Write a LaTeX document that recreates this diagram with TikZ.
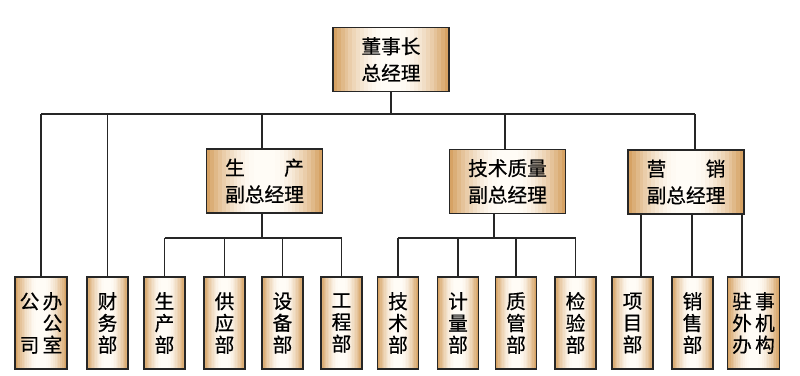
\documentclass[tikz,border=0pt]{standalone}
\usepackage{fontspec}
\setmainfont{Noto Sans CJK SC}[FakeBold=0.6]
\usetikzlibrary{calc}
\definecolor{boxtan}{RGB}{214,162,100}
\definecolor{boxlight}{RGB}{255,252,246}
\tikzset{
  orgbox/.style={draw=black!85, line width=1.1pt, align=center, inner sep=0pt,
    path picture={
      \fill[boxlight] (path picture bounding box.south west) rectangle
        (path picture bounding box.north east);
      \foreach \i [evaluate=\i as \a using \i/30, evaluate=\i as \b using (\i+1.3)/30,
                   evaluate=\i as \p using 100*(1-\i/12)^1.6] in {0,...,11} {
        \fill[boxtan!\p!boxlight]
          ($(path picture bounding box.south west)!\a!(path picture bounding box.south east)$) rectangle
          ($(path picture bounding box.north west)!\b!(path picture bounding box.north east)$);
        \fill[boxtan!\p!boxlight]
          ($(path picture bounding box.south east)!\a!(path picture bounding box.south west)$) rectangle
          ($(path picture bounding box.north east)!\b!(path picture bounding box.north west)$);
      }
    }},
  headbox/.style={orgbox, minimum width=2.9cm, minimum height=1.6cm,
    font=\fontsize{14}{19}\selectfont},
  deptbox/.style={orgbox, minimum width=1.025cm, minimum height=2.3cm,
    font=\fontsize{14}{15.5}\selectfont},
  widebox/.style={deptbox, minimum width=1.3cm},
  link/.style={line width=0.8pt, black!85}
}
\begin{document}
\begin{tikzpicture}[x=0.025cm, y=-0.025cm]
\useasboundingbox (0,0) rectangle (800,375);
% heads
\node[headbox] (ceo) at (391,59.5) {董事长\\总经理};
\node[headbox] (prodvp) at (264.5,181) {\makebox[4em]{生\hfill 产}\\副总经理};
\node[headbox] (techvp) at (507.5,181.5) {技术质量\\副总经理};
\node[headbox] (mktvp) at (686,182) {\makebox[4em]{营\hfill 销}\\副总经理};
% departments
\node[widebox] (office) at (41,323) {公\,办\\\phantom{公}\,公\\司\,室};
\node[deptbox] (finance) at (107.5,323) {财\\务\\部};
\node[deptbox] (prodsec) at (164.5,323) {生\\产\\部};
\node[deptbox] (supply) at (224.5,323) {供\\应\\部};
\node[deptbox] (equip) at (282.5,323) {设\\备\\部};
\node[deptbox] (eng) at (341.5,323) {工\\程\\部};
\node[deptbox] (techsec) at (398,323) {技\\术\\部};
\node[deptbox] (metro) at (458,323) {计\\量\\部};
\node[deptbox] (quality) at (516,323) {质\\管\\部};
\node[deptbox] (inspect) at (575.5,323) {检\\验\\部};
\node[deptbox] (project) at (632.5,323) {项\\目\\部};
\node[deptbox] (sales) at (692.5,323) {销\\售\\部};
\node[widebox] (branch) at (753.5,323) {驻\,事\\外\,机\\办\,构};
% top level bus
\coordinate (busL) at (41,114);
\coordinate (busR) at (695,114);
\draw[link] (ceo.south) -- (ceo.south |- busL);
\draw[link] (busL) -- (busR);
\draw[link] (busL) -- (office.north);
\draw[link] (finance.north |- busL) -- (finance.north);
\draw[link] (prodvp.north -| 262,0) -- (262,114);
\draw[link] (techvp.north -| 505,0) -- (505,114);
\draw[link] (busR) -- (busR |- mktvp.north);
% production
\coordinate (prodbus) at (262,238);
\draw[link] (prodvp.south -| prodbus) -- (prodbus);
\draw[link] (prodsec.north |- prodbus) -- (eng.north |- prodbus);
\foreach \n in {prodsec,supply,equip,eng}
  \draw[link] (\n.north |- prodbus) -- (\n.north);
% technology
\coordinate (techbus) at (494,238);
\draw[link] (techvp.south -| techbus) -- (techbus);
\draw[link] (techsec.north |- techbus) -- (inspect.north |- techbus);
\foreach \n in {techsec,metro,quality,inspect}
  \draw[link] (\n.north |- techbus) -- (\n.north);
% marketing
\foreach \x/\n in {641/project,692/sales,742/branch}
  \draw[link] (mktvp.south -| \x,0) -- (\n.north -| \x,0);
\end{tikzpicture}
\end{document}
